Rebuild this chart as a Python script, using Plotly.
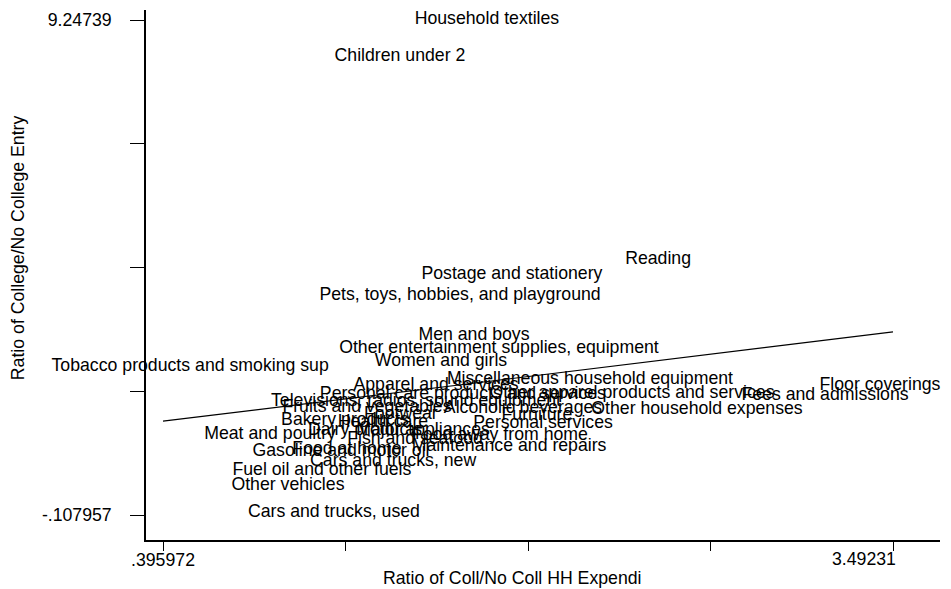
import numpy as np
import plotly.graph_objects as go

# expenditure categories (label centres)
labels = [
    "Household textiles", "Children under 2", "Reading", "Postage and stationery",
    "Pets, toys, hobbies, and playground", "Men and boys",
    "Other entertainment supplies, equipment", "Women and girls",
    "Tobacco products and smoking sup", "Apparel and services",
    "Miscellaneous household equipment", "Personal care products and services",
    "Other apparel products and services", "Floor coverings", "Fees and admissions",
    "Televisions, radios, sound equipment", "Fruits and vegetables",
    "Alcoholic beverages", "Other household expenses", "Footwear", "Furniture",
    "Bakery products", "Health care", "Personal services", "Meat and poultry",
    "Dairy products", "Major appliances", "Fish and seafood", "Food away from home",
    "Maintenance and repairs", "Food at home", "Gasoline and motor oil",
    "Cars and trucks, new", "Fuel oil and other fuels", "Other vehicles",
    "Cars and trucks, used",
]
expend_ratio = [
    1.770, 1.401, 2.496, 1.876, 1.656, 1.715, 1.821, 1.575, 0.511, 1.554,
    2.207, 1.668, 2.385, 3.437, 3.204, 1.469, 1.261, 1.923, 2.661, 1.405,
    1.982, 1.168, 1.329, 2.008, 0.850, 1.253, 1.499, 1.465, 1.825, 1.864,
    1.176, 1.151, 1.372, 1.070, 0.926, 1.121,
]
entry_ratio = [
    9.247, 8.548, 4.711, 4.428, 4.031, 3.275, 3.029, 2.783, 2.689, 2.330,
    2.443, 2.159, 2.178, 2.330, 2.141, 2.027, 1.914, 1.895, 1.876, 1.781,
    1.762, 1.668, 1.630, 1.611, 1.404, 1.479, 1.479, 1.309, 1.385, 1.177,
    1.120, 1.082, 0.893, 0.723, 0.440, -0.070,
]

x_min, x_max = 0.395972, 3.49231
y_min, y_max = -0.107957, 9.24739
x_ticklabels = [".395972", "", "", "", ""]
x_last_label = "3.49231"
y_ticklabels = ["-.107957", "", "", "", "9.24739"]

FONT = "Liberation Sans, Arial, sans-serif"
FSIZE = 17.7

fig = go.Figure()

# linear fit, drawn across the labelled x range
slope, intercept = np.polyfit(expend_ratio, entry_ratio, 1)
fit_x = [x_min, x_max]
fig.add_trace(
    go.Scatter(
        x=fit_x,
        y=[intercept + slope * v for v in fit_x],
        mode="lines",
        line=dict(color="black", width=1.2),
        hoverinfo="skip",
    )
)

fig.add_trace(
    go.Scatter(
        x=expend_ratio,
        y=entry_ratio,
        mode="text",
        text=labels,
        textposition="middle center",
        textfont=dict(family=FONT, size=FSIZE, color="black"),
        cliponaxis=False,
        hoverinfo="text",
    )
)

xr = (x_max - x_min) / 730.0
yr = (y_max - y_min) / 495.0

fig.update_layout(
    width=951,
    height=589,
    margin=dict(l=146, r=11, t=10, b=49, pad=0),
    plot_bgcolor="white",
    paper_bgcolor="white",
    showlegend=False,
    font=dict(family=FONT, size=FSIZE, color="black"),
    xaxis=dict(
        range=[x_min - 17 * xr, x_max + 47 * xr],
        tickvals=list(np.linspace(x_min, x_max, 5)),
        ticktext=x_ticklabels,
        ticks="outside",
        ticklen=9,
        tickcolor="black",
        ticklabelstandoff=-6,
        showline=True,
        linecolor="black",
        linewidth=1.5,
        showgrid=False,
        zeroline=False,
    ),
    yaxis=dict(
        range=[y_min - 25 * yr, y_max + 10 * yr],
        tickvals=list(np.linspace(y_min, y_max, 5)),
        ticktext=y_ticklabels,
        ticks="outside",
        ticklen=14,
        tickcolor="black",
        ticklabelstandoff=15,
        showline=True,
        linecolor="black",
        linewidth=1.5,
        showgrid=False,
        zeroline=False,
    ),
    annotations=[
        # last x tick label sits to the left of its tick, as in the source
        dict(
            text=x_last_label,
            xref="x", yref="paper",
            x=x_max, y=0,
            xanchor="right", yanchor="top",
            xshift=5, yshift=-7,
            showarrow=False,
            font=dict(family=FONT, size=FSIZE),
        ),
        dict(
            text="Ratio of Coll/No Coll HH Expendi",
            xref="paper", yref="paper",
            x=(512 - 146) / 794.0, y=-0.072,
            xanchor="center", yanchor="middle",
            showarrow=False,
            font=dict(family=FONT, size=FSIZE),
        ),
        dict(
            text="Ratio of College/No College Entry",
            xref="paper", yref="paper",
            x=-0.161, y=(540 - 248) / 530.0,
            xanchor="center", yanchor="middle",
            textangle=-90,
            showarrow=False,
            font=dict(family=FONT, size=FSIZE),
        ),
    ],
)

# drop the page's default body margin so the figure sits at the window corner
fig.write_html(
    "out.html",
    config={"displayModeBar": False},
    post_script="document.body.style.margin='0';",
)
